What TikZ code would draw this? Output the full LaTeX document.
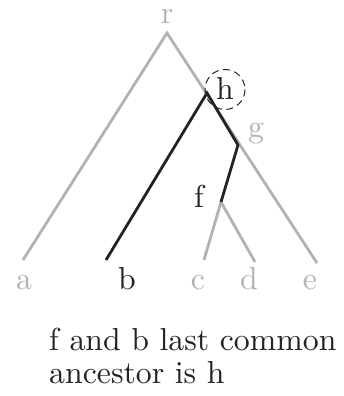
\documentclass[tikz,border=0pt]{standalone}
\usetikzlibrary{calc}
\definecolor{lgray}{RGB}{178,178,178}
\definecolor{dk}{RGB}{35,35,35}
\newcommand\bigtxt[1]{\scalebox{3.18}{\fontsize{10}{12}\selectfont #1}}
\begin{document}
\begin{tikzpicture}[x=1pt,y=-1pt,
  lbl/.style={inner sep=0pt, text=dk},
  glbl/.style={lbl, text=lgray},
  gedge/.style={draw=lgray, line width=2.8pt},
  bedge/.style={draw=dk, line width=2.8pt}]
\useasboundingbox (0,0) rectangle (343,396);
% junctions
\coordinate (r) at (167,33);
\coordinate (h) at (207,93);
\coordinate (g) at (238,145);
\coordinate (f) at (221,202);
\coordinate (a) at (23,260);
\coordinate (b) at (106,260);
\coordinate (c) at (204,260);
\coordinate (d) at (255,262);
\coordinate (e) at (317,263);
% gray edges
\draw[gedge] (a) -- (r) -- (e);
\draw[gedge] (c) -- (f) -- (d);
% black path
\draw[bedge, line join=miter] (b) -- (h) -- (g) -- (f);
% labels
\node[glbl, anchor=base] (rl) at (167,24) {\bigtxt{r}};
\node[lbl, anchor=base] (hl) at (225,99) {\bigtxt{h}};
\draw[dk, line width=1pt, dash pattern=on 7pt off 4.5pt] (225,89.5) circle (20);
\node[glbl, anchor=base] (gl) at (256,137) {\bigtxt{g}};
\node[lbl, anchor=base] (fl) at (199,207) {\bigtxt{f}};
\node[glbl, anchor=base] (al) at (24,289) {\bigtxt{a}};
\node[lbl, anchor=base] (bl) at (127,289) {\bigtxt{b}};
\node[glbl, anchor=base] (cl) at (198,289) {\bigtxt{c}};
\node[glbl, anchor=base] (dl) at (249,289) {\bigtxt{d}};
\node[glbl, anchor=base] (el) at (310,289) {\bigtxt{e}};
\node[lbl, anchor=base west] (t1) at (49,350) {\bigtxt{f and b last common}};
\node[lbl, anchor=base west] (t2) at (49,383) {\bigtxt{ancestor is h}};
\end{tikzpicture}
\end{document}
